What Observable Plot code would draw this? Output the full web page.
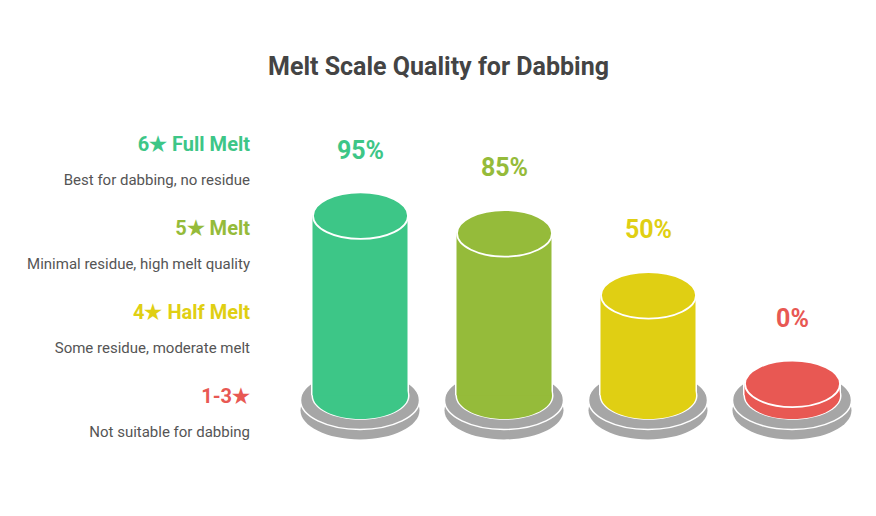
<!DOCTYPE html>
<html><head><meta charset="utf-8">
<script src="https://cdn.jsdelivr.net/npm/d3@7"></script>
<script src="https://cdn.jsdelivr.net/npm/@observablehq/plot@0.6"></script>
<style>html,body{margin:0;padding:0;background:#fff;overflow:hidden}svg{display:block}</style>
</head><body><div id="c"></div>
<script>
const grades = ["6★ Full Melt", "5★ Melt", "4★ Half Melt", "1-3★"];
const notes = ["Best for dabbing, no residue", "Minimal residue, high melt quality", "Some residue, moderate melt", "Not suitable for dabbing"];
const shares = [95, 85, 50, 0];
const colors = ["#3dc687", "#95bb3a", "#e0cf13", "#e85853"];
const rows = grades.map((grade, i) => ({grade, note: notes[i], share: shares[i], color: colors[i], i}));

// Flattened circle used for the tops and bottoms of the cylinders and plates
const K = 0.5522848, FLAT = 0.49;
const ellipse = {draw(ctx, size) {
  const a = Math.sqrt(size / Math.PI), b = a * FLAT;
  ctx.moveTo(-a, 0);
  ctx.bezierCurveTo(-a, -b * K, -a * K, -b, 0, -b);
  ctx.bezierCurveTo(a * K, -b, a, -b * K, a, 0);
  ctx.bezierCurveTo(a, b * K, a * K, b, 0, b);
  ctx.bezierCurveTo(-a * K, b, -a, b * K, -a, 0);
  ctx.closePath();
}};
const font = "Roboto";
const X = {x: "grade", y: 0};
const fillColor = d => d.color;

const plot = Plot.plot({
  width: 876, height: 516, margin: 0,
  style: {fontFamily: font, background: "#fff"},
  x: {type: "band", domain: grades, range: [287.5, 863.5], padding: 0, axis: null},
  y: {domain: [0, 100], range: [383.3, 206.3], axis: null},
  marks: [
    // plates
    Plot.dot(rows, {...X, symbol: ellipse, r: 59.5, dx: -0.5, dy: 26.5, fill: "#a6a6a6"}),
    Plot.dot(rows, {...X, symbol: ellipse, r: 59.5, dx: -0.5, dy: 16.5, fill: "#a6a6a6", stroke: "#fff", strokeWidth: 1.5}),
    // cylinder outline
    Plot.dot(rows, {...X, symbol: ellipse, r: 49, dy: 12, fill: "#fff"}),
    Plot.barY(rows, {x: "grade", y1: () => 0, y2: "share", insetLeft: 23, insetRight: 23, insetBottom: -12, fill: "#fff"}),
    // cylinder body
    Plot.dot(rows, {...X, symbol: ellipse, r: 47.5, dy: 12, fill: fillColor}),
    Plot.barY(rows, {x: "grade", y1: () => 0, y2: "share", insetLeft: 24.5, insetRight: 24.5, insetBottom: -12, fill: fillColor}),
    // cylinder top
    Plot.dot(rows, {x: "grade", y: "share", symbol: ellipse, r: 47.5, fill: fillColor, stroke: "#fff", strokeWidth: 1.8}),
    // value labels
    Plot.text(rows, {x: "grade", y: "share", text: d => d.share + "%", dy: -65, fill: fillColor, fontSize: 25, fontWeight: 700, textAnchor: "middle"}),
    // title
    Plot.text(["Melt Scale Quality for Dabbing"], {frameAnchor: "top", dx: 0, dy: 66, lineAnchor: "middle", fontSize: 25, fontWeight: 700, fill: "#444444"}),
    // left legend
    ...rows.flatMap(d => [
      Plot.text([d.grade], {frameAnchor: "top-left", dx: 249.5, dy: 144 + d.i * 84, textAnchor: "end", lineAnchor: "middle", fontSize: 20, fontWeight: 700, fill: d.color}),
      Plot.text([d.note], {frameAnchor: "top-left", dx: 249.5, dy: 180 + d.i * 84, textAnchor: "end", lineAnchor: "middle", fontSize: 15, fill: "#555555"})
    ])
  ]
});
document.getElementById("c").append(plot);
</script></body></html>
